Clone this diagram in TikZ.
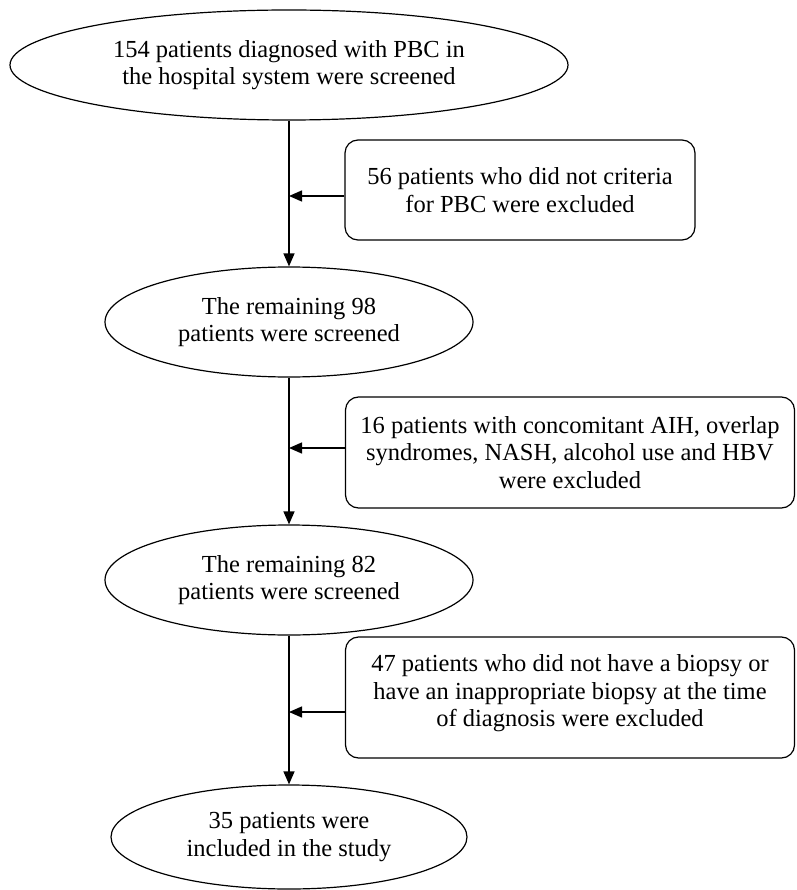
\documentclass[tikz,border=0pt]{standalone}
\usepackage{fontspec}
\setmainfont{Liberation Serif}
\usetikzlibrary{shapes.geometric,arrows.meta}
\begin{document}
\begin{tikzpicture}[x=1pt,y=-1pt,
  every node/.style={font=\fontsize{24.5}{27.5}\selectfont, align=center, inner sep=0pt},
  oval/.style={ellipse, draw, line width=1.2pt},
  exbox/.style={draw, rounded corners=13pt, line width=1.2pt},
  flow/.style={line width=1.4pt, -{Triangle[length=13pt,width=11pt]}}]
\useasboundingbox (0,0) rectangle (796,890);
\node[oval, minimum width=558pt, minimum height=110pt] (e1) at (289,65) {154 patients diagnosed with PBC in\\the hospital system were screened};
\node[oval, minimum width=368pt, minimum height=110pt] (e2) at (289,322) {The remaining 98\\patients were screened};
\node[oval, minimum width=368pt, minimum height=110pt] (e3) at (289,580) {The remaining 82\\patients were screened};
\node[oval, minimum width=356pt, minimum height=104pt] (e4) at (289,837) {35 patients were\\included in the study};
\node[exbox, minimum width=350pt, minimum height=100pt] (b1) at (520,190) {56 patients who did not criteria\\for PBC were excluded};
\node[exbox, minimum width=449pt, minimum height=111pt] (b2) at (570,452.5) {16 patients with concomitant AIH, overlap\\syndromes, NASH, alcohol use and HBV\\were excluded};
\node[exbox, minimum width=449pt, minimum height=121pt, text depth=14pt] (b3) at (570,697.5) {47 patients who did not have a biopsy or\\have an inappropriate biopsy at the time\\of diagnosis were excluded};
\coordinate (j1) at (289,196);
\coordinate (j2) at (289,448);
\coordinate (j3) at (289,712);
\draw[flow] (e1.south) -- (e2.north);
\draw[flow] (e2.south) -- (e3.north);
\draw[flow] (e3.south) -- (e4.north);
\draw[flow] (b1.west |- j1) -- (j1);
\draw[flow] (b2.west |- j2) -- (j2);
\draw[flow] (b3.west |- j3) -- (j3);
\end{tikzpicture}
\end{document}
